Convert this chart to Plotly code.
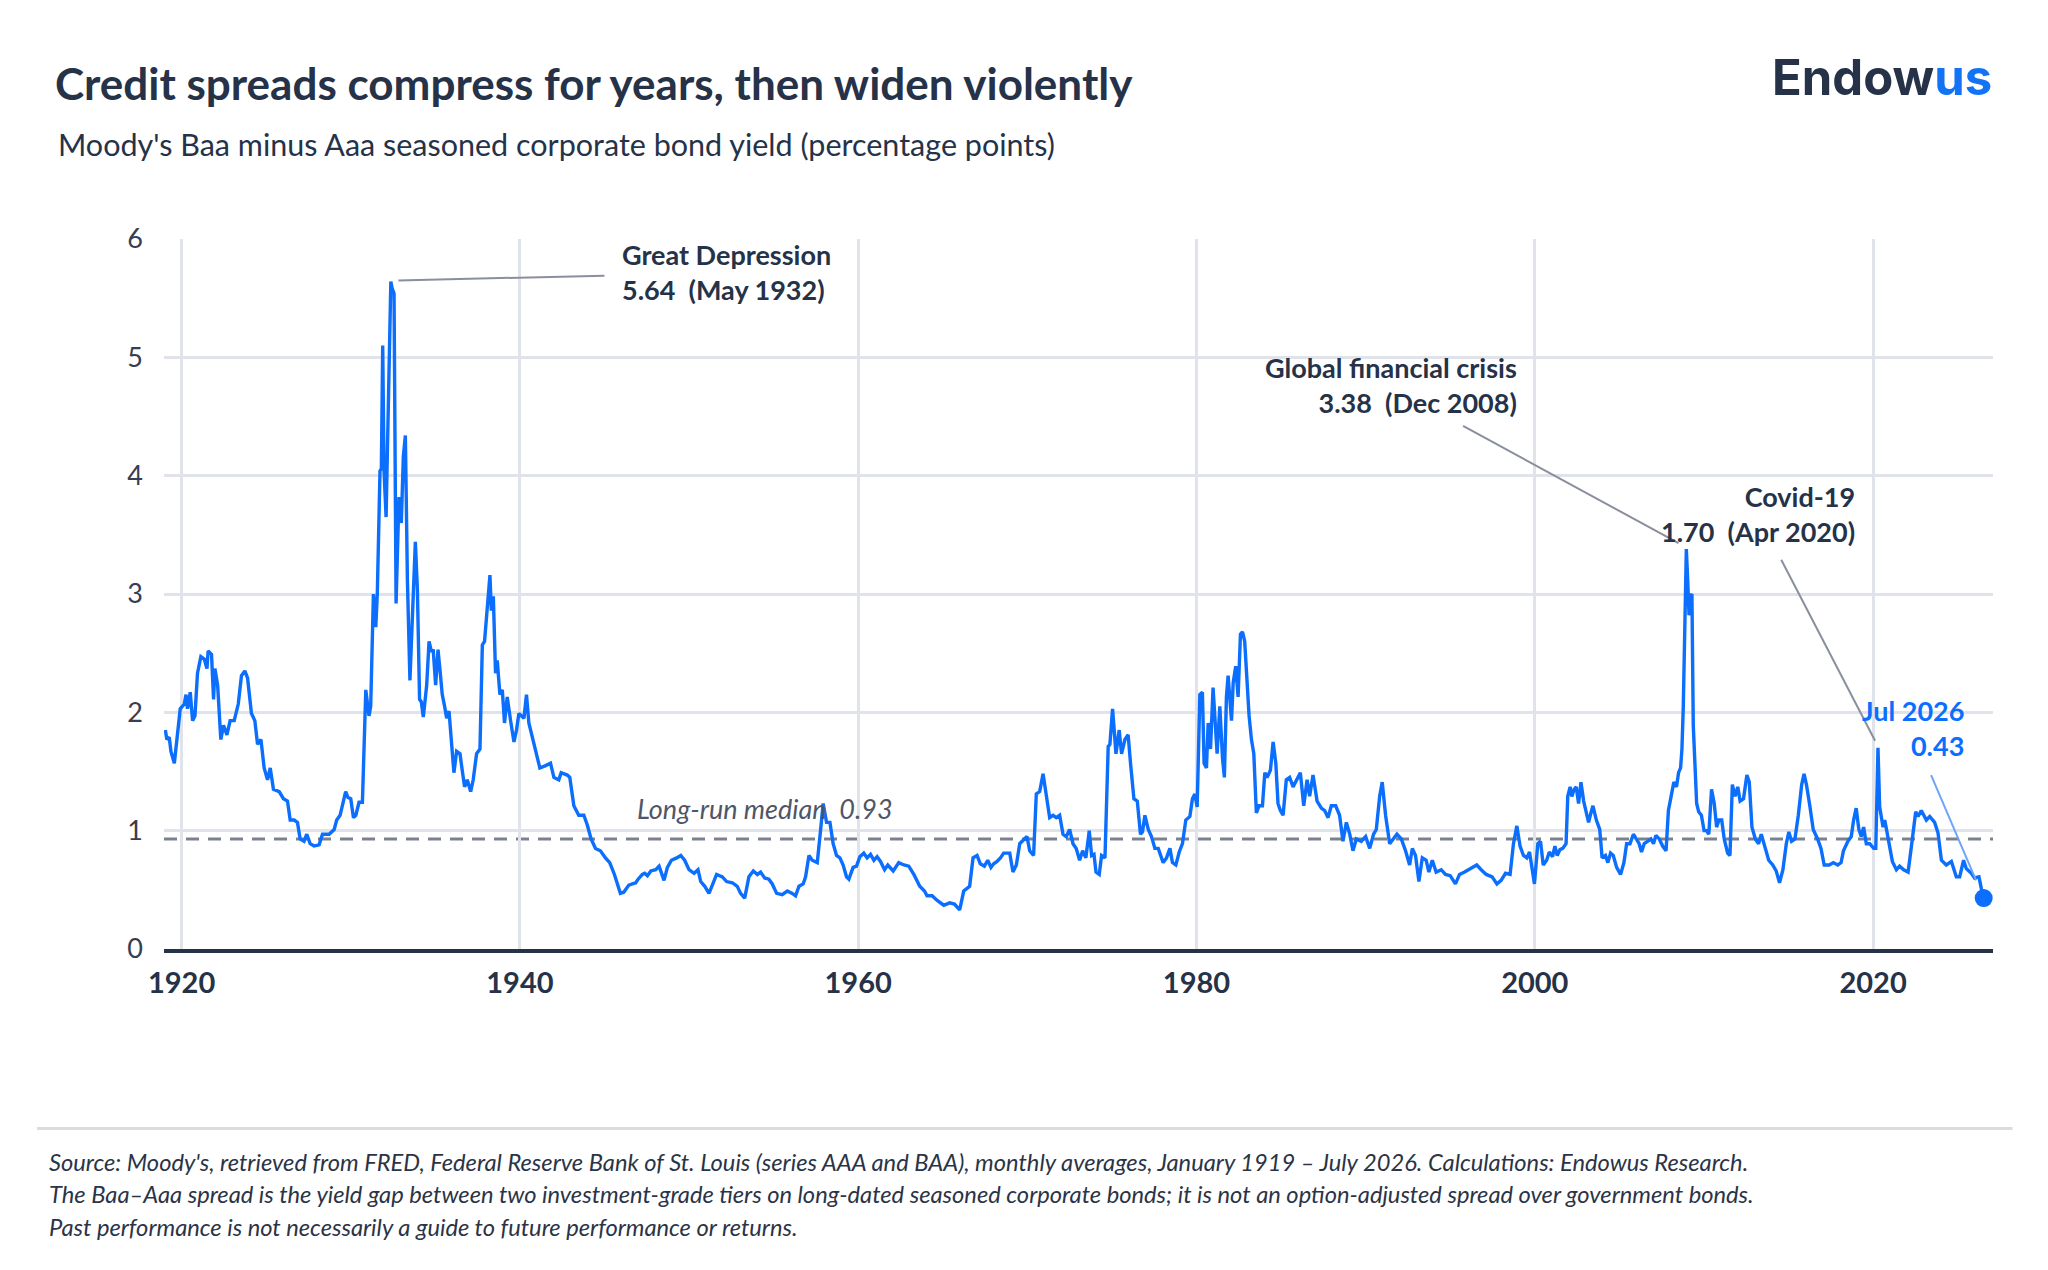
import plotly.graph_objects as go

# Moody's Baa minus Aaa spread (decimal years)
YEARS = [
    1919.04, 1919.13, 1919.27, 1919.37, 1919.57, 1919.76, 1919.92, 1920.16, 1920.26, 1920.35,
    1920.51, 1920.65, 1920.79, 1920.94, 1921.14, 1921.34, 1921.50, 1921.57, 1921.77, 1921.89,
    1921.97, 1922.13, 1922.32, 1922.48, 1922.68, 1922.87, 1923.11, 1923.35, 1923.54, 1923.74,
    1923.90, 1924.13, 1924.33, 1924.49, 1924.69, 1924.88, 1925.08, 1925.24, 1925.43, 1925.77,
    1926.02, 1926.26, 1926.42, 1926.65, 1926.85, 1927.01, 1927.24, 1927.40, 1927.60, 1927.83,
    1928.13, 1928.33, 1928.72, 1929.02, 1929.17, 1929.37, 1929.57, 1929.70, 1929.84, 1930.00,
    1930.16, 1930.30, 1930.49, 1930.69, 1930.89, 1931.08, 1931.18, 1931.34, 1931.48, 1931.57,
    1931.73, 1931.81, 1931.89, 1931.97, 1932.09, 1932.20, 1932.37, 1932.45, 1932.56, 1932.68,
    1932.85, 1932.99, 1933.11, 1933.23, 1933.35, 1933.50, 1933.64, 1933.82, 1933.94, 1934.07,
    1934.17, 1934.29, 1934.49, 1934.63, 1934.76, 1934.88, 1935.02, 1935.16, 1935.28, 1935.41,
    1935.55, 1935.67, 1935.81, 1935.94, 1936.10, 1936.26, 1936.46, 1936.59, 1936.73, 1936.89,
    1937.09, 1937.24, 1937.44, 1937.64, 1937.78, 1937.91, 1937.97, 1938.11, 1938.23, 1938.31,
    1938.43, 1938.56, 1938.66, 1938.82, 1938.96, 1939.09, 1939.25, 1939.45, 1939.65, 1939.80,
    1939.94, 1940.24, 1940.39, 1940.53, 1940.79, 1940.98, 1941.18, 1941.52, 1941.81, 1942.01,
    1942.30, 1942.44, 1942.80, 1942.95, 1943.19, 1943.48, 1943.78, 1943.98, 1944.21, 1944.47,
    1944.76, 1945.06, 1945.31, 1945.59, 1945.94, 1946.14, 1946.44,
    1946.65, 1946.85, 1946.99, 1947.24, 1947.38, 1947.54, 1947.74, 1948.03, 1948.23, 1948.52,
    1948.72, 1948.96, 1949.27, 1949.51, 1949.74, 1950.00, 1950.30, 1950.53, 1950.69, 1950.93,
    1951.18, 1951.38, 1951.63, 1951.97, 1952.22, 1952.56, 1952.85, 1953.05, 1953.29, 1953.54,
    1953.80, 1954.04, 1954.23, 1954.47, 1954.72, 1954.92, 1955.18, 1955.51, 1955.81, 1956.10,
    1956.30, 1956.50, 1956.75, 1956.89, 1957.09, 1957.28, 1957.58, 1957.78, 1957.93, 1958.13,
    1958.33, 1958.52, 1958.72, 1958.92, 1959.11, 1959.31, 1959.45, 1959.70, 1959.90, 1960.10,
    1960.33, 1960.53, 1960.73, 1960.93, 1961.12, 1961.32, 1961.56, 1961.75, 1962.07, 1962.40,
    1962.70, 1962.99, 1963.29, 1963.64, 1963.92, 1964.07, 1964.37, 1964.67, 1965.06, 1965.41,
    1965.69, 1966.00, 1966.24, 1966.59, 1966.79, 1967.03, 1967.22, 1967.46, 1967.66, 1967.85,
    1968.01, 1968.21, 1968.41, 1968.60, 1968.80, 1968.96, 1969.15, 1969.35, 1969.55, 1969.74,
    1969.98, 1970.14, 1970.37, 1970.53, 1970.73, 1970.93, 1971.12, 1971.32, 1971.52, 1971.71,
    1971.91, 1972.11, 1972.30, 1972.50, 1972.70, 1972.89, 1973.09,
    1973.27, 1973.46, 1973.66, 1973.80, 1973.94, 1974.06, 1974.25, 1974.39, 1974.59, 1974.78,
    1974.88, 1975.04, 1975.24, 1975.43, 1975.57, 1975.77, 1975.96, 1976.10, 1976.30, 1976.50,
    1976.69, 1976.81, 1976.95, 1977.15, 1977.34, 1977.54, 1977.74, 1978.03, 1978.23, 1978.43,
    1978.58, 1978.78, 1978.98, 1979.17, 1979.37, 1979.61, 1979.76, 1979.90, 1980.04, 1980.20,
    1980.35, 1980.45, 1980.59, 1980.69, 1980.83, 1980.98, 1981.14, 1981.22, 1981.38, 1981.54,
    1981.65, 1981.77, 1981.87, 1982.07, 1982.17, 1982.32, 1982.46, 1982.60, 1982.72, 1982.85,
    1983.11, 1983.25, 1983.39, 1983.54, 1983.70, 1983.90, 1984.04, 1984.17, 1984.37, 1984.53,
    1984.69, 1984.82, 1984.96, 1985.12, 1985.31, 1985.51, 1985.71, 1985.91, 1986.14, 1986.34,
    1986.54, 1986.69, 1986.89, 1987.13, 1987.38, 1987.58, 1987.78, 1987.97, 1988.23, 1988.46,
    1988.66, 1988.86, 1989.06, 1989.25, 1989.45, 1989.74, 1990.00, 1990.24, 1990.47, 1990.63,
    1990.83, 1990.98, 1991.18, 1991.42, 1991.61, 1991.85, 1992.11, 1992.36, 1992.60, 1992.76,
    1992.95, 1993.15, 1993.35, 1993.58, 1993.74, 1993.94, 1994.17, 1994.47, 1994.72, 1995.00,
    1995.31, 1995.55, 1995.85, 1996.10, 1996.34, 1996.57, 1996.83, 1997.13, 1997.48, 1997.76,
    1998.01, 1998.27, 1998.54, 1998.74, 1998.94, 1999.13, 1999.33, 1999.53, 1999.69, 1999.84,
    1999.98, 2000.18,
    2000.34, 2000.50, 2000.70, 2000.86, 2001.05, 2001.19, 2001.33, 2001.49, 2001.65, 2001.85,
    2001.95, 2002.09, 2002.19, 2002.33, 2002.45, 2002.59, 2002.73, 2002.89, 2003.04, 2003.18,
    2003.32, 2003.44, 2003.64, 2003.84, 2003.98, 2004.18, 2004.32, 2004.48, 2004.64, 2004.84,
    2005.07, 2005.27, 2005.43, 2005.63, 2005.83, 2006.03, 2006.17, 2006.31, 2006.47, 2006.67,
    2006.87, 2007.02, 2007.16, 2007.36, 2007.56, 2007.76, 2007.90, 2008.06, 2008.22, 2008.38,
    2008.50, 2008.62, 2008.70, 2008.78, 2008.86, 2008.96, 2009.04, 2009.12, 2009.17, 2009.29,
    2009.37, 2009.45, 2009.57, 2009.69, 2009.85, 2010.01, 2010.15, 2010.29, 2010.45, 2010.61,
    2010.75, 2010.89, 2011.05, 2011.20, 2011.40, 2011.54, 2011.68, 2011.84, 2012.00, 2012.14,
    2012.34, 2012.54, 2012.68, 2012.84, 2013.04, 2013.23, 2013.39, 2013.59, 2013.83, 2014.07,
    2014.27, 2014.47, 2014.67, 2014.87, 2015.02, 2015.18, 2015.38, 2015.58, 2015.78, 2015.92,
    2016.06, 2016.26, 2016.46, 2016.72, 2016.92, 2017.11, 2017.41, 2017.65, 2017.91, 2018.11,
    2018.25, 2018.51, 2018.71, 2018.85, 2019.00, 2019.16, 2019.30, 2019.44, 2019.60, 2019.80,
    2020.04, 2020.16, 2020.29, 2020.39, 2020.59, 2020.69, 2020.89, 2021.14, 2021.38, 2021.57,
    2021.81, 2022.07, 2022.26, 2022.52, 2022.66, 2022.85, 2023.15, 2023.35, 2023.64, 2023.84,
    2024.04, 2024.33, 2024.63, 2024.92, 2025.12, 2025.35, 2025.51, 2025.81, 2026.00, 2026.26,
    2026.40, 2026.54,
]

SPREAD = [
    1.85, 1.77, 1.79, 1.67, 1.57, 1.81, 2.03, 2.07, 2.15, 2.03,
    2.17, 1.93, 1.97, 2.33, 2.47, 2.45, 2.37, 2.52, 2.49, 2.11,
    2.37, 2.23, 1.77, 1.89, 1.81, 1.93, 1.93, 2.07, 2.31, 2.35,
    2.29, 1.99, 1.93, 1.73, 1.77, 1.53, 1.43, 1.53, 1.35, 1.33,
    1.27, 1.25, 1.09, 1.09, 1.07, 0.93, 0.91, 0.97, 0.89, 0.87,
    0.88, 0.97, 0.97, 1.01, 1.09, 1.13, 1.27, 1.33, 1.28, 1.27,
    1.11, 1.13, 1.24, 1.24, 2.19, 1.97, 2.05, 3.00, 2.72, 3.00,
    4.04, 4.06, 5.10, 4.04, 3.65, 4.56, 5.64, 5.58, 5.54, 2.92,
    3.82, 3.60, 4.16, 4.34, 3.12, 2.27, 2.72, 3.44, 3.04, 2.11,
    2.09, 1.96, 2.23, 2.60, 2.52, 2.52, 2.23, 2.53, 2.35, 2.15,
    2.05, 1.95, 2.01, 1.81, 1.49, 1.67, 1.65, 1.51, 1.37, 1.43,
    1.33, 1.43, 1.65, 1.69, 2.57, 2.60, 2.72, 3.02, 3.16, 2.86,
    2.98, 2.33, 2.44, 2.15, 2.19, 1.91, 2.13, 1.93, 1.75, 1.85,
    1.99, 1.95, 2.15, 1.91, 1.75, 1.65, 1.53, 1.55, 1.57, 1.45,
    1.43, 1.49, 1.47, 1.45, 1.21, 1.13, 1.13, 1.05, 0.93, 0.85,
    0.83, 0.77, 0.73, 0.63, 0.47, 0.48, 0.54,
    0.55, 0.56, 0.59, 0.63, 0.64, 0.62, 0.66, 0.67, 0.70, 0.58,
    0.69, 0.75, 0.77, 0.79, 0.75, 0.67, 0.64, 0.67, 0.57, 0.53,
    0.47, 0.55, 0.63, 0.61, 0.57, 0.56, 0.53, 0.47, 0.43, 0.61,
    0.66, 0.63, 0.65, 0.60, 0.59, 0.55, 0.47, 0.46, 0.49, 0.47,
    0.45, 0.53, 0.55, 0.61, 0.79, 0.75, 0.73, 1.01, 1.23, 1.07,
    1.07, 0.89, 0.79, 0.77, 0.71, 0.61, 0.59, 0.69, 0.70, 0.78,
    0.81, 0.77, 0.80, 0.75, 0.78, 0.74, 0.67, 0.71, 0.66, 0.73,
    0.71, 0.70, 0.63, 0.53, 0.49, 0.45, 0.45, 0.41, 0.37, 0.39,
    0.38, 0.33, 0.49, 0.53, 0.77, 0.79, 0.72, 0.70, 0.75, 0.69,
    0.72, 0.74, 0.77, 0.81, 0.81, 0.81, 0.65, 0.71, 0.89, 0.92,
    0.95, 0.83, 0.79, 1.31, 1.33, 1.48, 1.29, 1.11, 1.13, 1.11,
    1.13, 0.97, 0.95, 1.01, 0.89, 0.85, 0.75,
    0.83, 0.77, 1.00, 0.79, 0.80, 0.65, 0.63, 0.79, 0.77, 1.71,
    1.73, 2.03, 1.65, 1.85, 1.65, 1.77, 1.81, 1.57, 1.27, 1.25,
    0.97, 0.99, 1.13, 1.01, 0.95, 0.85, 0.85, 0.73, 0.77, 0.85,
    0.73, 0.71, 0.82, 0.89, 1.09, 1.12, 1.27, 1.31, 1.20, 2.15,
    2.17, 1.57, 1.53, 1.91, 1.69, 2.21, 1.85, 1.65, 2.05, 1.61,
    1.45, 2.13, 2.31, 1.93, 2.25, 2.39, 2.13, 2.66, 2.68, 2.60,
    1.97, 1.77, 1.65, 1.15, 1.21, 1.21, 1.49, 1.45, 1.51, 1.75,
    1.57, 1.23, 1.17, 1.13, 1.43, 1.45, 1.37, 1.43, 1.49, 1.21,
    1.43, 1.29, 1.47, 1.25, 1.19, 1.17, 1.11, 1.21, 1.21, 1.13,
    0.91, 1.07, 0.97, 0.83, 0.93, 0.91, 0.95, 0.85, 0.97, 1.01,
    1.29, 1.41, 1.13, 0.89, 0.93, 0.97, 0.93, 0.83, 0.71, 0.85,
    0.79, 0.57, 0.77, 0.75, 0.65, 0.75, 0.65, 0.67, 0.63, 0.62,
    0.55, 0.63, 0.65, 0.67, 0.69, 0.71, 0.67, 0.63, 0.61, 0.55,
    0.58, 0.64, 0.63, 0.89, 1.04, 0.87, 0.79, 0.77, 0.82, 0.69,
    0.55, 0.89,
    0.91, 0.71, 0.75, 0.82, 0.78, 0.87, 0.79, 0.84, 0.85, 0.89,
    1.29, 1.37, 1.29, 1.35, 1.37, 1.23, 1.41, 1.25, 1.17, 1.07,
    1.15, 1.21, 1.09, 1.01, 0.77, 0.79, 0.73, 0.81, 0.79, 0.69,
    0.63, 0.73, 0.89, 0.89, 0.97, 0.93, 0.89, 0.82, 0.89, 0.91,
    0.93, 0.89, 0.96, 0.93, 0.87, 0.83, 1.17, 1.29, 1.41, 1.37,
    1.49, 1.53, 1.69, 2.05, 2.80, 3.38, 3.12, 2.82, 2.98, 3.00,
    1.89, 1.65, 1.23, 1.16, 1.13, 1.00, 1.00, 0.97, 1.35, 1.23,
    1.03, 1.09, 1.09, 0.93, 0.81, 0.79, 1.39, 1.29, 1.37, 1.25,
    1.27, 1.47, 1.41, 1.03, 0.93, 0.89, 0.97, 0.87, 0.75, 0.71,
    0.66, 0.56, 0.67, 0.89, 0.99, 0.91, 0.93, 1.13, 1.39, 1.48,
    1.39, 1.21, 1.01, 0.93, 0.85, 0.71, 0.71, 0.73, 0.71, 0.73,
    0.83, 0.91, 0.95, 1.09, 1.19, 1.01, 0.95, 1.03, 0.89, 0.89,
    0.85, 0.85, 1.70, 1.20, 1.03, 1.09, 0.92, 0.74, 0.67, 0.70,
    0.67, 0.65, 0.86, 1.16, 1.12, 1.17, 1.09, 1.12, 1.07, 0.98,
    0.75, 0.71, 0.74, 0.61, 0.61, 0.75, 0.68, 0.64, 0.60, 0.61,
    0.51, 0.43,
]

MEDIAN = 0.93
X_TICKS = [1920, 1940, 1960, 1980, 2000, 2020]
Y_TICKS = [0, 1, 2, 3, 4, 5, 6]
EVENT_NAMES = ["Great Depression", "Global financial crisis", "Covid-19"]
EVENT_DATES = ["May 1932", "Dec 2008", "Apr 2020"]
LAST_DATE = "Jul 2026"

NAVY = "#253248"
BLUE = "#0b6efd"
GREY_LINE = "#8a8f9c"
GRID = "#e1e3ea"


def peak_index(lo, hi):
    idx = [i for i, yr in enumerate(YEARS) if lo <= yr <= hi]
    return max(idx, key=lambda i: SPREAD[i])


gd = peak_index(1919, 1940)
gfc = peak_index(2005, 2012)
cov = peak_index(2019, 2022)
last = len(YEARS) - 1

fig = go.Figure()
fig.add_trace(go.Scatter(
    x=YEARS, y=SPREAD, mode="lines",
    line=dict(color=BLUE, width=3.4), hoverinfo="x+y", showlegend=False,
))
fig.add_trace(go.Scatter(
    x=[YEARS[last]], y=[SPREAD[last]], mode="markers",
    marker=dict(color=BLUE, size=18), showlegend=False,
))

shapes = [
    # long-run median
    dict(type="line", xref="paper", x0=0, x1=1, yref="y", y0=MEDIAN, y1=MEDIAN,
         line=dict(color="#7c8190", width=3, dash="13px,9px"), layer="below"),
    # leader lines
    dict(type="line", xref="x", yref="y",
         x0=YEARS[gd] + 0.45, y0=SPREAD[gd] + 0.01, x1=1945.0, y1=5.69,
         line=dict(color=GREY_LINE, width=2)),
    dict(type="line", xref="x", yref="y",
         x0=1995.76, y0=4.42, x1=YEARS[gfc] - 0.46, y1=SPREAD[gfc] + 0.05,
         line=dict(color=GREY_LINE, width=2)),
    dict(type="line", xref="x", yref="y",
         x0=2014.57, y0=3.29, x1=YEARS[cov] - 0.17, y1=SPREAD[cov] + 0.06,
         line=dict(color=GREY_LINE, width=2)),
    dict(type="line", xref="x", yref="y",
         x0=2023.43, y0=1.47, x1=YEARS[last] - 0.45, y1=SPREAD[last] + 0.15,
         line=dict(color="#6ea5f7", width=2)),
    # footer separator
    dict(type="line", xref="paper", yref="paper", x0=-0.0694, x1=1.0107, y0=-0.2528, y1=-0.2528,
         line=dict(color="#dcdcdc", width=3)),
]

bold_ann = dict(family="Lato", size=27, color=NAVY, weight="bold")
annotations = [
    dict(x=1945.9, y=5.72, xref="x", yref="y", xanchor="left", yanchor="middle", align="left",
         text=f"{EVENT_NAMES[0]}<br>{SPREAD[gd]:.2f}  ({EVENT_DATES[0]})", showarrow=False, font=bold_ann),
    dict(x=1999.05, y=4.77, xref="x", yref="y", xanchor="right", yanchor="middle", align="right",
         text=f"{EVENT_NAMES[1]}<br>{SPREAD[gfc]:.2f}  ({EVENT_DATES[1]})", showarrow=False, font=bold_ann),
    dict(x=2019.05, y=3.676, xref="x", yref="y", xanchor="right", yanchor="middle", align="right",
         text=f"{EVENT_NAMES[2]}<br>{SPREAD[cov]:.2f}  ({EVENT_DATES[2]})", showarrow=False, font=bold_ann),
    dict(x=2025.47, y=1.865, xref="x", yref="y", xanchor="right", yanchor="middle", align="right",
         text=f"{LAST_DATE}<br>{SPREAD[last]:.2f}", showarrow=False,
         font=dict(family="Lato", size=27, color=BLUE, weight="bold")),
    dict(x=1946.8, y=1.19, xref="x", yref="y", xanchor="left", yanchor="middle",
         text=f"Long-run median  {MEDIAN:.2f}", showarrow=False,
         font=dict(family="Lato", size=27, color="#4f5668", style="italic")),
    # title block
    dict(x=-0.0607, y=1.2203, xref="paper", yref="paper", xanchor="left", yanchor="middle",
         text="Credit spreads compress for years, then widen violently", showarrow=False,
         font=dict(family="Lato", size=44, color=NAVY, weight="bold")),
    dict(x=-0.0592, y=1.1343, xref="paper", yref="paper", xanchor="left", yanchor="middle",
         text="Moody's Baa minus Aaa seasoned corporate bond yield (percentage points)", showarrow=False,
         font=dict(family="Lato", size=30.5, color=NAVY)),
    dict(x=1.0006, y=1.2280, xref="paper", yref="paper", xanchor="right", yanchor="middle",
         text=f'<span style="color:{NAVY}">Endow</span><span style="color:#1273f5">us</span>',
         showarrow=False, font=dict(family="Inter", size=49, weight="bold")),
]

footnotes = [
    "Source: Moody's, retrieved from FRED, Federal Reserve Bank of St. Louis (series AAA and BAA), "
    "monthly averages, January 1919 – July 2026. Calculations: Endowus Research.",
    "The Baa–Aaa spread is the yield gap between two investment-grade tiers on long-dated seasoned "
    "corporate bonds; it is not an option-adjusted spread over government bonds.",
    "Past performance is not necessarily a guide to future performance or returns.",
]
for txt, yy in zip(footnotes, [-0.3005, -0.3450, -0.3910]):
    annotations.append(dict(
        x=-0.0639, y=yy, xref="paper", yref="paper", xanchor="left", yanchor="middle",
        text=txt, showarrow=False, font=dict(family="Lato", size=23.7, color="#2b3447", style="italic"),
    ))

# the page body adds an 8px offset, so the margins are shifted to compensate
fig.update_layout(
    width=2048, height=1270,
    margin=dict(l=156, r=63, t=231, b=329),
    paper_bgcolor="white", plot_bgcolor="white",
    font=dict(family="Lato", color=NAVY),
    shapes=shapes, annotations=annotations,
    showlegend=False,
)
fig.update_xaxes(
    range=[1918.96, 2027.09], tickvals=X_TICKS, ticktext=[str(t) for t in X_TICKS],
    tickfont=dict(family="Lato", size=29, color=NAVY, weight="bold"),
    showgrid=True, gridcolor=GRID, gridwidth=2.5, zeroline=False,
    showline=True, linecolor=NAVY, linewidth=4, ticks="", ticklabelstandoff=5,
)
fig.update_yaxes(
    range=[0, 6], tickvals=Y_TICKS,
    tickfont=dict(family="Lato", size=27, color="#353e52"),
    showgrid=True, gridcolor=GRID, gridwidth=2.5, zeroline=False,
    showline=False, ticks="", ticklabelstandoff=20,
)

fig.write_html("out.html")
